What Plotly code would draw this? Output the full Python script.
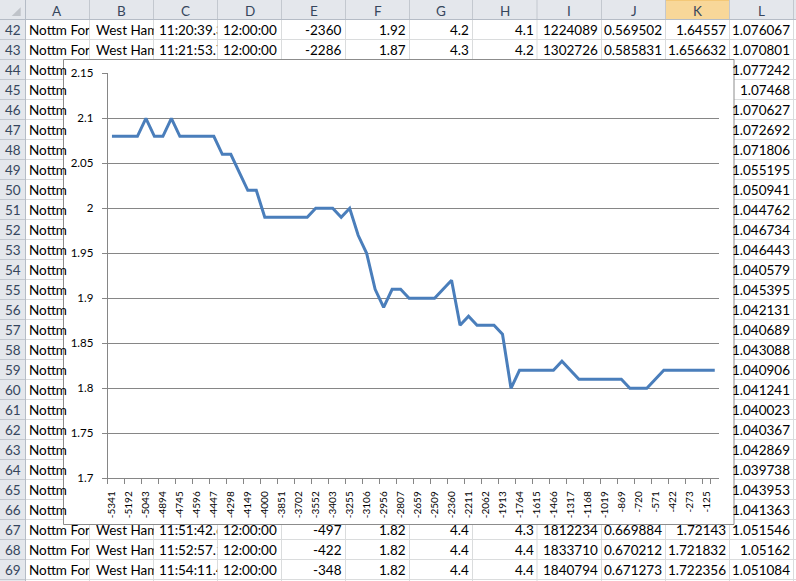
import plotly.graph_objects as go

W, H = 796, 581

# ---------------- chart data ----------------
categories = [
    "-5341", "-5267", "-5192", "-5118", "-5043", "-4969", "-4894", "-4820",
    "-4745", "-4671", "-4596", "-4522", "-4447", "-4373", "-4298", "-4224",
    "-4149", "-4074", "-4000", "-3925", "-3851", "-3776", "-3702", "-3627",
    "-3552", "-3478", "-3403", "-3329", "-3255", "-3180", "-3106", "-3031",
    "-2956", "-2881", "-2807", "-2733", "-2659", "-2584", "-2509", "-2435",
    "-2360", "-2286", "-2211", "-2137", "-2062", "-1988", "-1913", "-1839",
    "-1764", "-1690", "-1615", "-1541", "-1466", "-1392", "-1317", "-1243",
    "-1168", "-1094", "-1019", "-944", "-869", "-795", "-720", "-646",
    "-571", "-497", "-422", "-348", "-273", "-199", "-125", "-51",
]
values = [
    2.08, 2.08, 2.08, 2.08, 2.10, 2.08, 2.08, 2.10,
    2.08, 2.08, 2.08, 2.08, 2.08, 2.06, 2.06, 2.04,
    2.02, 2.02, 1.99, 1.99, 1.99, 1.99, 1.99, 1.99,
    2.00, 2.00, 2.00, 1.99, 2.00, 1.97, 1.95, 1.91,
    1.89, 1.91, 1.91, 1.90, 1.90, 1.90, 1.90, 1.91,
    1.92, 1.87, 1.88, 1.87, 1.87, 1.87, 1.86, 1.80,
    1.82, 1.82, 1.82, 1.82, 1.82, 1.83, 1.82, 1.81,
    1.81, 1.81, 1.81, 1.81, 1.81, 1.80, 1.80, 1.80,
    1.81, 1.82, 1.82, 1.82, 1.82, 1.82, 1.82, 1.82,
]
tick_labels = categories[0::2]

# ---------------- spreadsheet background data ----------------
col_letters = ["A", "B", "C", "D", "E", "F", "G", "H", "I", "J", "K", "L"]
row_numbers = list(range(42, 70))
row42 = ["Nottm Forest", "West Ham", "11:20:39.327", "12:00:00", "-2360", "1.92",
         "4.2", "4.1", "1224089", "0.569502", "1.64557", "1.076067"]
row43 = ["Nottm Forest", "West Ham", "11:21:53.746", "12:00:00", "-2286", "1.87",
         "4.3", "4.2", "1302726", "0.585831", "1.656632", "1.070801"]
row67 = ["Nottm Forest", "West Ham", "11:51:42.612", "12:00:00", "-497", "1.82",
         "4.4", "4.3", "1812234", "0.669884", "1.72143", "1.051546"]
row68 = ["Nottm Forest", "West Ham", "11:52:57.105", "12:00:00", "-422", "1.82",
         "4.4", "4.4", "1833710", "0.670212", "1.721832", "1.05162"]
row69 = ["Nottm Forest", "West Ham", "11:54:11.438", "12:00:00", "-348", "1.82",
         "4.4", "4.4", "1840794", "0.671273", "1.722356", "1.051084"]
hidden_A = "Nottm"
col_L_mid = ["1.077242", "1.07468", "1.070627", "1.072692", "1.071806", "1.055195",
             "1.050941", "1.044762", "1.046734", "1.046443", "1.040579", "1.045395",
             "1.042131", "1.040689", "1.043088", "1.040906", "1.041241", "1.040023",
             "1.040367", "1.042869", "1.039738", "1.043953", "1.041363"]

# ---------------- geometry (pixels) ----------------
col_edges = [25.5, 89.5, 153.5, 217.5, 281.5, 345.5, 409.5, 472.5, 537.0,
             601.5, 665.5, 729.5, 793.5]
left_text_x = [29.3, 95.7, 159.3, 223.3]
header_h = 19.5
row_h = 20.0
frame = (63.5, 59.5, 734.0, 524.5)
plot_x = (107.7, 719.0)
plot_y = (73.3, 478.3)


def px(v):
    return v / W


def py(v):
    return 1 - v / H


HEADER_BG = "#e4e7ec"
HEADER_LINE = "#c3c8cf"
GRID = "#dadcdd"
HEAD_TXT = "#36465c"
CELL_FONT = dict(family="Lato", size=13.5, color="black")

shapes = []


def rect(x0, y0, x1, y1, fill, line=None, lw=0):
    shapes.append(dict(type="rect", xref="paper", yref="paper", layer="below",
                       x0=px(x0), x1=px(x1), y0=py(y1), y1=py(y0),
                       fillcolor=fill,
                       line=dict(color=line or fill, width=lw)))


def seg(x0, y0, x1, y1, color, lw=1):
    shapes.append(dict(type="line", xref="paper", yref="paper", layer="below",
                       x0=px(x0), x1=px(x1), y0=py(y0), y1=py(y1),
                       line=dict(color=color, width=lw)))


# headers background
rect(0, 0, W, header_h, HEADER_BG)
rect(0, header_h, col_edges[0], H, HEADER_BG)
# selected column K header
rect(col_edges[10], 0, col_edges[11], header_h, "#f8d799", "#efb956", 1)
# corner triangle
shapes.append(dict(type="path", xref="paper", yref="paper", layer="below",
                   path="M %f,%f L %f,%f L %f,%f Z" % (px(11.7), py(16), px(20.7), py(16),
                                                       px(20.7), py(7.3)),
                   fillcolor="#bfc3c9", line=dict(width=0)))
# grid lines
n_lines = int((H - header_h) / row_h) + 2
for k in range(n_lines):
    yy = header_h + k * row_h
    seg(col_edges[0], yy, W, yy, GRID)
    seg(0, yy, col_edges[0], yy, HEADER_LINE)
for e in col_edges:
    seg(e, header_h, e, H, GRID)
    seg(e, 0, e, header_h, HEADER_LINE)
seg(0, header_h, W, header_h, "#b5bcc6")
seg(col_edges[0], 0, col_edges[0], H, "#b5bcc6")
# chart frame
rect(frame[0], frame[1], frame[2], frame[3], "white", "#8c8c8c", 1)

annotations = []


def ann(text, x, y, xanchor, font, width=None):
    d = dict(text=text, x=px(x), y=py(y), xref="paper", yref="paper",
             xanchor=xanchor, yanchor="middle", showarrow=False, font=font,
             borderpad=0, borderwidth=0)
    if width is not None:
        d["width"] = width
        d["align"] = "left"
    annotations.append(d)


for i, letter in enumerate(col_letters):
    ann(letter, (col_edges[i] + col_edges[i + 1]) / 2, 10.6, "center",
        dict(family="Lato", size=13.5, color=HEAD_TXT))

for k, r in enumerate(row_numbers):
    ann(str(r), 12.8, header_h + k * row_h + 10.8, "center",
        dict(family="Lato", size=13.5, color=HEAD_TXT))


def full_row(r, cells):
    yc = header_h + (r - 42) * row_h + 10.8
    for c, txt in enumerate(cells):
        if c < 4:
            x0 = left_text_x[c]
            ann(txt, x0, yc, "left", CELL_FONT, width=col_edges[c + 1] - x0)
        else:
            ann(txt, col_edges[c + 1] - 3.3, yc, "right", CELL_FONT)


full_row(42, row42)
full_row(43, row43)
full_row(67, row67)
full_row(68, row68)
full_row(69, row69)
for k, txt in enumerate(col_L_mid):
    r = 44 + k
    yc = header_h + (r - 42) * row_h + 10.8
    ann(hidden_A, left_text_x[0], yc, "left", CELL_FONT)
    ann(txt, col_edges[12] - 3.3, yc, "right", CELL_FONT)

# ---------------- figure ----------------
fig = go.Figure(go.Scatter(x=categories, y=values, mode="lines",
                           line=dict(color="#4a7ebb", width=3),
                           hoverinfo="x+y"))

fig.update_layout(
    template="none",
    width=W, height=H,
    margin=dict(l=0, r=0, t=0, b=0, pad=0, autoexpand=False),
    paper_bgcolor="white", plot_bgcolor="white",
    showlegend=False,
    shapes=shapes,
    annotations=annotations,
    xaxis=dict(domain=[px(plot_x[0]), px(plot_x[1])], type="category",
               range=[-0.5, len(categories) - 0.5], automargin=False,
               tickmode="array", tickvals=tick_labels, ticktext=tick_labels,
               tickangle=-90, tickson="boundaries", ticks="outside", ticklen=5,
               tickcolor="#868686", showline=True, linecolor="#868686", linewidth=1,
               showgrid=False, zeroline=False,
               tickfont=dict(family="Lato", size=10, color="black"),
               ticklabelstandoff=8),
    yaxis=dict(domain=[py(plot_y[1]), py(plot_y[0])], range=[1.7, 2.15],
               automargin=False,
               tick0=1.7, dtick=0.05, ticks="outside", ticklen=5,
               tickcolor="#868686", showline=True, linecolor="#868686", linewidth=1,
               showgrid=True, gridcolor="#868686", gridwidth=1, zeroline=False,
               tickfont=dict(family="Lato", size=11.5, color="black"),
               ticklabelstandoff=6),
)

fig.write_html(
    "out.html",
    config={"displayModeBar": False},
    post_script="document.body.style.margin='0';document.body.style.overflow='hidden';",
)
